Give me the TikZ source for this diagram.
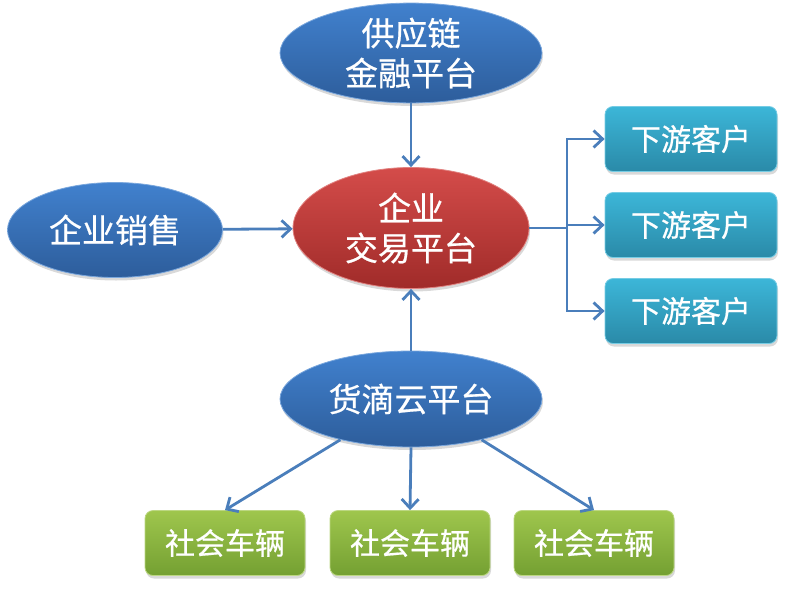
\documentclass[tikz,border=0pt]{standalone}
\usepackage{fontspec}
\setmainfont{Noto Sans CJK SC}[BoldFont={Noto Sans CJK SC},BoldFeatures={FakeBold=0.6}]
\usetikzlibrary{shapes.geometric,shadows,arrows.meta}
\definecolor{lineblue}{HTML}{4A7EBB}
\definecolor{bluetop}{HTML}{4181CE}
\definecolor{bluebot}{HTML}{2D5D9B}
\definecolor{redtop}{HTML}{D44C4A}
\definecolor{redbot}{HTML}{A02B29}
\definecolor{tealtop}{HTML}{3CB6D8}
\definecolor{tealbot}{HTML}{2A8AA8}
\definecolor{greentop}{HTML}{9FC64D}
\definecolor{greenbot}{HTML}{74A032}
\begin{document}
\begin{tikzpicture}[x=1pt,y=-1pt,
    >={Straight Barb[length=9pt,width=17pt]},
    link/.style={draw=lineblue,line width=2.8pt,->},
    oval/.style={ellipse,inner sep=0pt,align=center,text=white,
      font=\fontsize{33}{40}\selectfont\bfseries,
      drop shadow={opacity=0.3,shadow xshift=1pt,shadow yshift=-3pt}},
    blueoval/.style={oval,top color=bluetop,bottom color=bluebot,draw=bluetop!70!white,line width=0.8pt},
    redoval/.style={oval,top color=redtop,bottom color=redbot,draw=redtop!70!white,line width=0.8pt},
    card/.style={rectangle,rounded corners=8pt,inner sep=0pt,text=white,
      font=\fontsize{30}{34}\selectfont\bfseries,minimum width=160pt,minimum height=65pt,
      drop shadow={opacity=0.3,shadow xshift=1pt,shadow yshift=-3pt}},
    custbox/.style={card,minimum width=172pt,top color=tealtop,bottom color=tealbot,draw=tealtop!70!white,line width=0.8pt},
    carbox/.style={card,top color=greentop,bottom color=greenbot,draw=greentop!70!white,line width=0.8pt}]
  \useasboundingbox (0,0) rectangle (786,589);

  \node[blueoval,minimum width=262pt,minimum height=90pt] (finance) at (411,53) {供应链\\金融平台};
  \node[redoval,minimum width=236pt,minimum height=121pt] (trade) at (411,228) {企业\\交易平台};
  \node[blueoval,minimum width=215pt,minimum height=95pt] (sales) at (115,230) {企业销售};
  \node[blueoval,minimum width=262pt,minimum height=96pt] (cloud) at (411,399) {货滴云平台};

  \foreach \i/\y in {1/139,2/225,3/311}
    \node[custbox] (cust\i) at (691,\y) {下游客户};
  \foreach \i/\x in {1/225,2/410,3/594}
    \node[carbox] (car\i) at (\x,543) {社会车辆};

  \draw[link] (finance) -- (trade);
  \draw[link] (sales) -- (trade);
  \draw[link] (cloud) -- (trade);

  \coordinate (fork) at (567,228);
  \draw[draw=lineblue,line width=2.8pt] (trade.east) -- (fork);
  \foreach \i in {1,2,3}
    \draw[link] (fork) |- (cust\i.west);

  \draw[link] (cloud.south) -- (car2.north);
  \draw[link] (cloud.-150) -- (car1.north);
  \draw[link] (cloud.-30) -- (car3.north);
\end{tikzpicture}
\end{document}
